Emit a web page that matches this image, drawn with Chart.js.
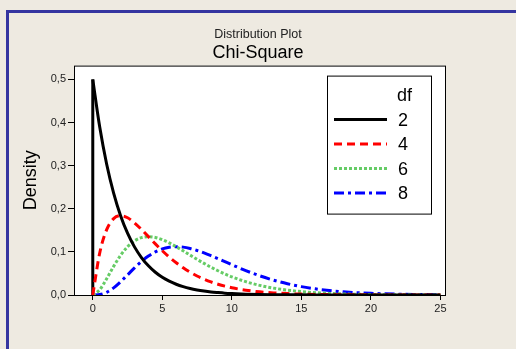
<!DOCTYPE html>
<html>
<head>
<meta charset="utf-8">
<script src="https://cdn.jsdelivr.net/npm/chart.js@4/dist/chart.umd.min.js"></script>
<style>
  html, body { margin: 0; padding: 0; background: #eeeae1; }
  #wrap { position: relative; width: 516px; height: 349px; }
  #frame { position: absolute; left: 6px; top: 10px; width: 510px; height: 339px;
           border-top: 3px solid #3535a0; border-left: 3px solid #3535a0; box-sizing: border-box; }
  canvas { position: absolute; left: 0; top: 0; }
</style>
</head>
<body>
<div id="wrap">
  <div id="frame"></div>
  <canvas id="chart" width="516" height="349"></canvas>
</div>
<script>
// x grid the curves were read at
const xValues = [0, 0.5, 1, 1.5, 2, 2.5, 3, 3.5, 4, 4.5, 5, 5.5, 6, 6.5, 7, 7.5, 8, 8.5, 9, 9.5, 10,
                 11, 12, 13, 14, 15, 16, 17, 18, 19, 20, 21, 22, 23, 24, 25];

// density values per df
const df2 = [0.5, 0.3894, 0.3033, 0.2362, 0.1839, 0.1433, 0.1116, 0.0869, 0.0677, 0.0527, 0.0410,
             0.0320, 0.0249, 0.0194, 0.0151, 0.0118, 0.0092, 0.0071, 0.0056, 0.0043, 0.0034,
             0.0020, 0.0012, 0.0008, 0.0005, 0.0003, 0.0002, 0.0001, 0.0001, 0, 0, 0, 0, 0, 0, 0];
const df4 = [0, 0.0974, 0.1516, 0.1771, 0.1839, 0.1791, 0.1673, 0.1521, 0.1353, 0.1186, 0.1026,
             0.0879, 0.0747, 0.0631, 0.0529, 0.0441, 0.0366, 0.0303, 0.0250, 0.0205, 0.0168,
             0.0112, 0.0074, 0.0049, 0.0032, 0.0021, 0.0013, 0.0009, 0.0006, 0.0004, 0.0002,
             0.0001, 0.0001, 0, 0, 0];
const df6 = [0, 0.0122, 0.0379, 0.0664, 0.0920, 0.1119, 0.1255, 0.1331, 0.1353, 0.1334, 0.1283,
             0.1208, 0.1120, 0.1025, 0.0925, 0.0826, 0.0733, 0.0644, 0.0562, 0.0488, 0.0421,
             0.0309, 0.0223, 0.0159, 0.0112, 0.0078, 0.0054, 0.0037, 0.0025, 0.0017, 0.0011,
             0.0008, 0.0005, 0.0003, 0.0002, 0.0001];
const df8 = [0, 0.0010, 0.0063, 0.0166, 0.0307, 0.0466, 0.0628, 0.0776, 0.0902, 0.1000, 0.1069,
             0.1107, 0.1120, 0.1110, 0.1079, 0.1033, 0.0976, 0.0912, 0.0844, 0.0773, 0.0702,
             0.0567, 0.0446, 0.0344, 0.0261, 0.0194, 0.0143, 0.0104, 0.0075, 0.0054, 0.0038,
             0.0027, 0.0019, 0.0013, 0.0009, 0.0006];

const dfLabels = ['2', '4', '6', '8'];
const xTicks = [0, 5, 10, 15, 20, 25];
const yTicks = [0, 0.1, 0.2, 0.3, 0.4, 0.5];

function toPoints(ys) {
    return xValues.map((x, i) => ({ x: x, y: ys[i] }));
}

// df=2 rises straight up at x=0 before the curve starts
const df2Rise = [{ x: xValues[0], y: 0 }, { x: xValues[0], y: df2[0] }];

const fontFamily = '"Liberation Sans", "DejaVu Sans", sans-serif';

// white plot area with a black frame
const plotFrame = {
    id: 'plotFrame',
    beforeDatasetsDraw(chart) {
        const { ctx, chartArea: a } = chart;
        ctx.save();
        ctx.fillStyle = '#ffffff';
        ctx.fillRect(a.left, a.top, a.right - a.left, a.bottom - a.top);
        ctx.restore();
    },
    afterDraw(chart) {
        const { ctx, chartArea: a } = chart;
        ctx.save();
        ctx.strokeStyle = '#000000';
        ctx.lineWidth = 1;
        ctx.strokeRect(a.left + 0.5, a.top + 0.5, a.right - a.left - 1, a.bottom - a.top);
        ctx.restore();
    }
};

// legend box inside the plot, top right
const boxLegend = {
    id: 'boxLegend',
    afterDraw(chart) {
        const { ctx, chartArea: a } = chart;
        const right = a.right - 14, left = right - 105;
        const top = a.top + 10, bottom = top + 139;
        ctx.save();
        ctx.fillStyle = '#ffffff';
        ctx.fillRect(left, top, right - left, bottom - top);
        ctx.strokeStyle = '#000000';
        ctx.lineWidth = 1;
        ctx.strokeRect(left + 0.5, top + 0.5, right - left - 1, bottom - top - 1);

        ctx.font = '18px ' + fontFamily;
        ctx.fillStyle = '#000000';
        ctx.textBaseline = 'middle';
        ctx.textAlign = 'left';
        ctx.fillText('df', left + 70, top + 20);

        chart.data.datasets.filter(ds => ds.label).forEach((ds, i) => {
            const y = top + 44 + i * 24.5;
            ctx.strokeStyle = ds.borderColor;
            ctx.lineWidth = ds.borderWidth;
            ctx.setLineDash(ds.borderDash || []);
            ctx.beginPath();
            ctx.moveTo(left + 7, y);
            ctx.lineTo(left + 60, y);
            ctx.stroke();
            ctx.setLineDash([]);
            ctx.fillStyle = '#000000';
            ctx.fillText(ds.label, left + 71, y + 1);
        });
        ctx.restore();
    }
};

const ctx = document.getElementById('chart').getContext('2d');

new Chart(ctx, {
    type: 'line',
    data: {
        datasets: [
            { label: dfLabels[0], data: toPoints(df2), borderColor: '#000000', borderWidth: 3 },
            { label: dfLabels[1], data: toPoints(df4), borderColor: '#ff0000', borderWidth: 3, borderDash: [8, 5] },
            { label: dfLabels[2], data: toPoints(df6), borderColor: '#66cc66', borderWidth: 3, borderDash: [3, 2] },
            { label: dfLabels[3], data: toPoints(df8), borderColor: '#0000ff', borderWidth: 3, borderDash: [10, 4, 3, 4] },
            { label: '', data: df2Rise, borderColor: '#000000', borderWidth: 3 }
        ]
    },
    options: {
        responsive: false,
        animation: false,
        parsing: false,
        elements: {
            point: { radius: 0 },
            line: { cubicInterpolationMode: 'monotone', fill: false, borderCapStyle: 'butt' }
        },
        layout: { padding: { left: 8, right: 8, top: 0, bottom: 0 } },
        plugins: {
            legend: { display: false },
            tooltip: { enabled: false },
            title: {
                display: true,
                text: 'Distribution Plot',
                color: '#222222',
                font: { family: fontFamily, size: 12.5, weight: 'normal' },
                padding: { top: 27, bottom: 0 }
            },
            subtitle: {
                display: true,
                text: 'Chi-Square',
                color: '#000000',
                font: { family: fontFamily, size: 18, weight: 'normal' },
                padding: { top: 0, bottom: 2 }
            }
        },
        scales: {
            x: {
                type: 'linear',
                min: -1.35,
                max: 25.4,
                afterFit: (scale) => { scale.height = 54; },
                afterBuildTicks: (scale) => { scale.ticks = xTicks.map(v => ({ value: v })); },
                border: { display: false },
                grid: { drawOnChartArea: false, tickLength: 5, color: '#000000' },
                ticks: {
                    color: '#222222',
                    padding: 2,
                    maxRotation: 0,
                    font: { family: fontFamily, size: 11 }
                }
            },
            y: {
                type: 'linear',
                min: 0,
                max: 0.532,
                afterFit: (scale) => { scale.width = 66; },
                afterBuildTicks: (scale) => { scale.ticks = yTicks.map(v => ({ value: v })); },
                border: { display: false },
                grid: { drawOnChartArea: false, tickLength: 6, color: '#000000' },
                title: {
                    display: true,
                    text: 'Density',
                    color: '#000000',
                    font: { family: fontFamily, size: 18 },
                    padding: { top: 12, bottom: 0 }
                },
                ticks: {
                    color: '#222222',
                    padding: 2,
                    font: { family: fontFamily, size: 11 },
                    callback: (v) => v.toFixed(1).replace('.', ',')
                }
            },
            // empty right-hand strip so the titles center on the whole page
            spacer: {
                type: 'linear',
                position: 'right',
                afterFit: (scale) => { scale.width = 62; },
                border: { display: false },
                grid: { display: false },
                ticks: { display: false }
            }
        }
    },
    plugins: [plotFrame, boxLegend]
});
</script>
</body>
</html>
